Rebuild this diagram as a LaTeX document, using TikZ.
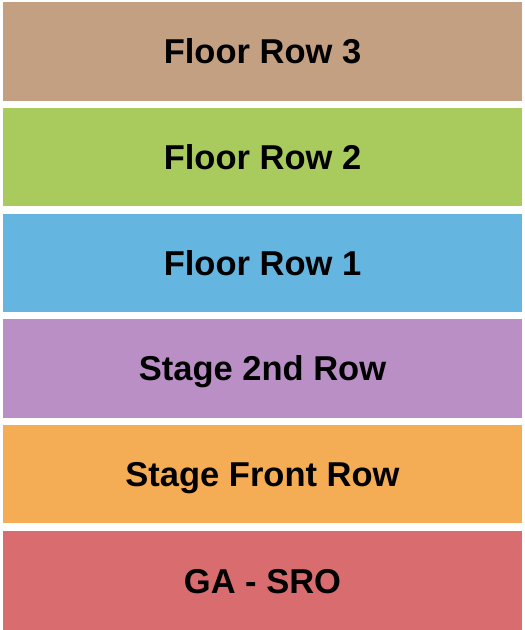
\documentclass[tikz,border=0pt]{standalone}
\usepackage{fontspec}
\setsansfont{Liberation Sans}
\usetikzlibrary{positioning}
\definecolor{sec_tan}{HTML}{C4A083}
\definecolor{sec_green}{HTML}{A9CB5D}
\definecolor{sec_blue}{HTML}{64B5DF}
\definecolor{sec_purple}{HTML}{BA8FC6}
\definecolor{sec_orange}{HTML}{F5AD55}
\definecolor{sec_red}{HTML}{D86C6E}
\tikzset{
	section/.style = {
		rectangle,
		inner sep=0pt,
		minimum width=519pt,
		minimum height=98.3pt,
		text height=25pt,
		text depth=0pt,
		text centered,
		font=\sffamily\bfseries\fontsize{34.5}{40}\selectfont,
		anchor=north
	},
	sec_floor3/.style = {section, fill=sec_tan},
	sec_floor2/.style = {section, fill=sec_green},
	sec_floor1/.style = {section, fill=sec_blue},
	sec_stage2/.style = {section, fill=sec_purple},
	sec_front/.style = {section, fill=sec_orange},
	sec_ga/.style = {section, fill=sec_red, minimum height=101.5pt},
}
\begin{document}
\begin{tikzpicture}[node distance=7pt]
\useasboundingbox (0,0) rectangle (525pt,-630pt);
\node [sec_floor3] (floor3) at (262.5pt,-2pt) {Floor Row 3};
\node [sec_floor2, below=of floor3] (floor2) {Floor Row 2};
\node [sec_floor1, below=of floor2] (floor1) {Floor Row 1};
\node [sec_stage2, below=of floor1] (stage2) {Stage 2nd Row};
\node [sec_front, below=of stage2] (front) {Stage Front Row};
\node [sec_ga, below=of front] (ga) {GA - SRO};
\end{tikzpicture}
\end{document}
